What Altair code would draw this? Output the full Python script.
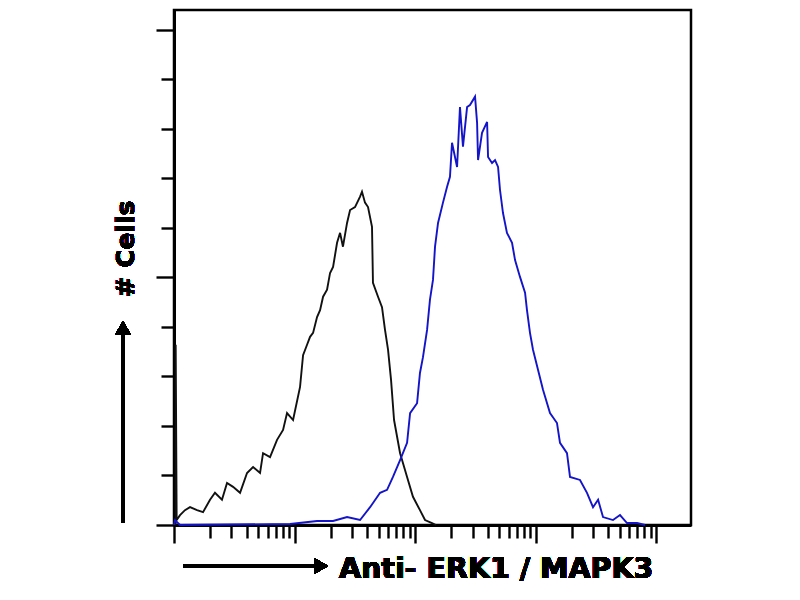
import altair as alt
import pandas as pd

# Isotype control (black) histogram: log10 fluorescence position, cell count (arbitrary units)
black_log = [0.014, 0.014, 0.022, 0.050, 0.091, 0.133, 0.191, 0.241, 0.299, 0.340, 0.398, 0.440,
             0.490, 0.548, 0.606, 0.656, 0.714, 0.739, 0.797, 0.855, 0.905, 0.938, 0.988, 1.046,
             1.071, 1.104, 1.129, 1.154, 1.187, 1.212, 1.237, 1.270, 1.295, 1.320, 1.353, 1.378,
             1.402, 1.436, 1.461, 1.502, 1.544, 1.560, 1.585, 1.610, 1.643, 1.651, 1.693, 1.726,
             1.751, 1.776, 1.801, 1.826, 1.876, 1.934, 1.983, 2.041, 2.083, 2.141, 2.174]
black_cnt = [0.00, 3.64, 0.10, 0.20, 0.30, 0.36, 0.30, 0.26, 0.51, 0.65, 0.51, 0.85,
             0.77, 0.65, 1.05, 1.17, 1.05, 1.45, 1.37, 1.72, 1.92, 2.26, 2.12, 2.79,
             3.43, 3.64, 3.80, 3.88, 4.20, 4.34, 4.61, 4.75, 5.09, 5.21, 5.70, 5.90,
             5.62, 6.10, 6.36, 6.42, 6.63, 6.73, 6.51, 6.42, 6.02, 4.89, 4.61, 4.40,
             3.94, 3.54, 2.93, 2.12, 1.45, 0.97, 0.57, 0.30, 0.10, 0.04, 0.00]

# ERK1 / MAPK3 stained (blue) histogram
blue_log = [0.000, 0.008, 0.050, 0.963, 1.187, 1.320, 1.436, 1.544, 1.627, 1.710, 1.768, 1.817,
            1.876, 1.934, 1.959, 2.017, 2.041, 2.066, 2.100, 2.124, 2.149, 2.166, 2.191, 2.232,
            2.266, 2.290, 2.307, 2.349, 2.373, 2.398, 2.432, 2.456, 2.498, 2.515, 2.523, 2.556,
            2.598, 2.606, 2.639, 2.664, 2.689, 2.705, 2.730, 2.763, 2.805, 2.830, 2.871, 2.913,
            2.929, 2.954, 2.979, 3.021, 3.062, 3.120, 3.178, 3.203, 3.261, 3.286, 3.369, 3.427,
            3.477, 3.519, 3.560, 3.643, 3.701, 3.759, 3.842, 3.909]
blue_cnt = [0.00, 0.10, 0.00, 0.02, 0.08, 0.08, 0.16, 0.10, 0.36, 0.65, 0.71, 0.97,
            1.31, 1.66, 2.26, 2.46, 3.07, 3.39, 3.94, 4.55, 4.95, 5.62, 6.10, 6.51,
            6.83, 7.03, 7.72, 7.23, 8.44, 7.64, 8.44, 8.48, 8.65, 8.12, 7.37, 7.92,
            8.14, 7.43, 7.31, 7.37, 7.23, 6.77, 6.30, 5.90, 5.70, 5.35, 5.01, 4.69,
            4.34, 3.88, 3.54, 3.13, 2.73, 2.26, 2.06, 1.66, 1.45, 0.97, 0.91, 0.65,
            0.36, 0.51, 0.16, 0.10, 0.20, 0.04, 0.04, 0.00]

x_major = [1, 10, 100, 1000, 10000]
x_ticks = [1, 2, 3, 4, 5, 6, 7, 8, 9,
           10, 20, 30, 40, 50, 60, 70, 80, 90,
           100, 200, 300, 400, 500, 600, 700, 800, 900,
           1000, 2000, 3000, 4000, 5000, 6000, 7000, 8000, 9000,
           10000]
y_ticks = [0, 1, 2, 3, 4, 5, 6, 7, 8, 9, 10]

x_title = "Anti- ERK1 / MAPK3"
y_title = "# Cells"

rows = []
for i, (lg, c) in enumerate(zip(black_log, black_cnt)):
    rows.append({"series": "control", "idx": i, "fl": 10 ** lg, "count": c})
for i, (lg, c) in enumerate(zip(blue_log, blue_cnt)):
    rows.append({"series": "ERK1", "idx": i, "fl": 10 ** lg, "count": c})
df = pd.DataFrame(rows)

W, H = 517, 515

major_test = " || ".join(f"datum.value == {v}" for v in x_major)

x_axis = alt.Axis(
    values=x_ticks, labels=False, title=None, grid=False,
    tickSize={"condition": {"test": major_test, "value": 18}, "value": 13},
    tickWidth=2.4, tickColor="black", domainColor="black", domainWidth=3,
)
y_axis = alt.Axis(
    values=y_ticks, labels=False, title=None, grid=False,
    tickSize={"condition": {"test": "datum.value % 5 == 0", "value": 18}, "value": 13},
    tickWidth=2.4, tickColor="black", domainColor="black", domainWidth=3,
)

lines = alt.Chart(df).mark_line(strokeWidth=1.9, interpolate="linear").encode(
    x=alt.X("fl:Q", scale=alt.Scale(type="log", domain=[1, 19500], nice=False), axis=x_axis),
    y=alt.Y("count:Q", scale=alt.Scale(domain=[0, 10.4], nice=False, zero=True), axis=y_axis),
    color=alt.Color("series:N", scale=alt.Scale(domain=["control", "ERK1"],
                                                range=["#111111", "#1414c8"]), legend=None),
    order="idx:Q",
)

# x axis title with arrow
x_arrow_line = alt.Chart(df).mark_rule(color="black", strokeWidth=4).encode(
    x=alt.value(9), x2=alt.value(142), y=alt.value(556))
x_arrow_head = alt.Chart(df).mark_point(shape="triangle-right", filled=True, color="black",
                                        size=260, opacity=1).encode(
    x=alt.value(147), y=alt.value(556))
x_text = alt.Chart(df).mark_text(text=x_title, font="DejaVu Sans", fontWeight="bold",
                                 fontSize=28.5, align="left", baseline="alphabetic",
                                 color="black").encode(
    x=alt.value(165), y=alt.value(568))

# y axis title with arrow
y_arrow_line = alt.Chart(df).mark_rule(color="black", strokeWidth=4).encode(
    x=alt.value(-51), y=alt.value(513), y2=alt.value(320))
y_arrow_head = alt.Chart(df).mark_point(shape="triangle-up", filled=True, color="black",
                                        size=260, opacity=1).encode(
    x=alt.value(-51), y=alt.value(318))
y_text = alt.Chart(df).mark_text(text=y_title, font="DejaVu Sans", fontWeight="bold",
                                 fontSize=25, align="center", baseline="middle", angle=270,
                                 color="black").encode(
    x=alt.value(-48), y=alt.value(239))

chart = alt.layer(lines, x_arrow_line, x_arrow_head, x_text,
                  y_arrow_line, y_arrow_head, y_text).properties(
    width=W, height=H,
    autosize=alt.AutoSizeParams(type="none"),
    padding={"left": 166, "top": 2, "right": 101, "bottom": 67},
    background="white",
).configure_view(stroke="black", strokeWidth=2.5)

chart.save("out.html", embed_options={"renderer": "svg", "actions": False})
